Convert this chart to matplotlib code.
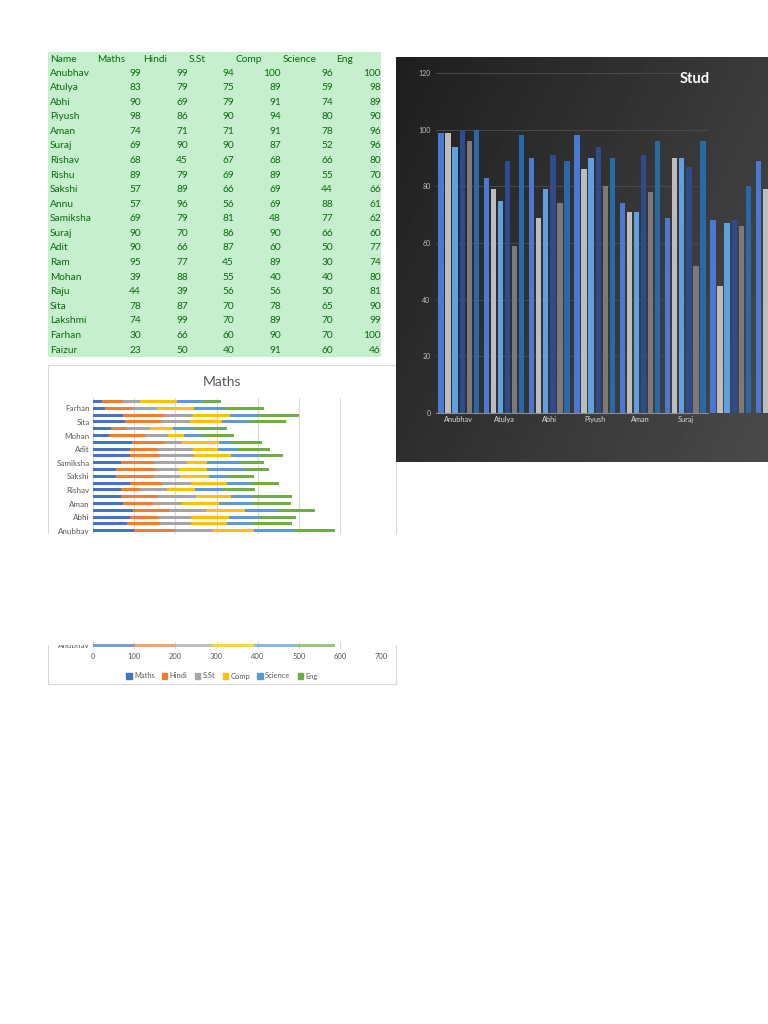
import matplotlib
matplotlib.use('Agg')
import matplotlib.pyplot as plt
from matplotlib.patches import Rectangle, Patch
import numpy as np

plt.rcParams['font.family'] = ['Lato', 'DejaVu Sans']

W, H = 768, 1024

# student marks (sheet rows, top to bottom)
names = ['Anubhav', 'Atulya', 'Abhi', 'Piyush', 'Aman', 'Suraj', 'Rishav', 'Rishu',
         'Sakshi', 'Annu', 'Samiksha', 'Suraj', 'Adit', 'Ram', 'Mohan', 'Raju',
         'Sita', 'Lakshmi', 'Farhan', 'Faizur']
maths = [99, 83, 90, 98, 74, 69, 68, 89, 57, 57, 69, 90, 90, 95, 39, 44, 78, 74, 30, 23]
hindi = [99, 79, 69, 86, 71, 90, 45, 79, 89, 96, 79, 70, 66, 77, 88, 39, 87, 99, 66, 50]
sst = [94, 75, 79, 90, 71, 90, 67, 69, 66, 56, 81, 86, 87, 45, 55, 56, 70, 70, 60, 40]
comp = [100, 89, 91, 94, 91, 87, 68, 89, 69, 69, 48, 90, 60, 89, 40, 56, 78, 89, 90, 91]
science = [96, 59, 74, 80, 78, 52, 66, 55, 44, 88, 77, 66, 50, 30, 40, 50, 65, 70, 70, 60]
eng = [100, 98, 89, 90, 96, 96, 80, 70, 66, 61, 62, 60, 77, 74, 80, 81, 90, 99, 100, 46]

subjects = ['Maths', 'Hindi', 'S.St', 'Comp', 'Science', 'Eng']
marks = [maths, hindi, sst, comp, science, eng]

office_colors = ['#4472C4', '#ED7D31', '#A5A5A5', '#FFC000', '#5B9BD5', '#70AD47']
dark_colors = ['#4A78D2', '#BDBDBD', '#5FA0E0', '#2F4B8C', '#7A7A7A', '#2A69A8']


def box(x0, y0, x1, y1):
    # pixel rectangle (top-left origin) -> figure fraction
    return [x0 / W, 1 - y1 / H, (x1 - x0) / W, (y1 - y0) / H]


fig = plt.figure(figsize=(W / 100, H / 100), dpi=100)
fig.patch.set_facecolor('white')
page = fig.add_axes([0, 0, 1, 1])
page.set_xlim(0, W)
page.set_ylim(H, 0)
page.axis('off')

# ---------------- table ----------------
page.add_patch(Rectangle((48, 52), 333, 305, color='#C6EFCE', lw=0))
green = '#0A6B0A'
fs_tab = 7.3
head_x = [97, 143, 189, 236, 283, 336]
col_right = [141, 188, 234, 281, 333, 381]
page.text(50, 59, 'Name', color=green, fontsize=fs_tab, va='center')
for hx, s in zip(head_x, subjects):
    page.text(hx, 59, s, color=green, fontsize=fs_tab, va='center')
for i, nm in enumerate(names):
    y = 73 + i * 14.58
    page.text(50, y, nm, color=green, fontsize=fs_tab, va='center')
    for k in range(6):
        page.text(col_right[k], y, str(marks[k][i]), color=green,
                  fontsize=fs_tab, va='center', ha='right')

# ---------------- stacked bar chart (cut in the middle) ----------------
border = '#D9D9D9'
page.plot([48, 48, 395.5, 395.5], [533, 365, 365, 533], color=border, lw=0.8)
page.plot([48, 48, 395.5, 395.5], [645, 684, 684, 645], color=border, lw=0.8)
page.text(222, 382, 'Maths', color='#595959', fontsize=10, ha='center', va='center')

idx = np.arange(len(names))


def stacked(ax, height, alpha=1.0):
    left = np.zeros(len(names))
    for k in range(6):
        vals = np.array(marks[k])
        ax.barh(idx, vals, left=left, height=height, color=office_colors[k],
                alpha=alpha, zorder=2)
        left += vals
    ax.set_xlim(0, 700)
    ax.set_xticks(range(0, 800, 100))
    ax.grid(axis='x', color='#D9D9D9', lw=0.8, zorder=0)
    ax.set_axisbelow(True)
    for sp in ax.spines.values():
        sp.set_visible(False)
    ax.patch.set_alpha(0)


ax_top = fig.add_axes(box(93, 398.3, 381.3, 533.5))
stacked(ax_top, 0.42)
ax_top.set_ylim(-0.41, 19.47)
ax_top.set_yticks(idx[::2])
ax_top.set_yticklabels(names[::2], fontsize=5.8, color='#595959')
ax_top.tick_params(axis='both', length=0, pad=2.5)
ax_top.tick_params(axis='x', labelbottom=False)

ax_bot = fig.add_axes(box(93, 642, 381.3, 649))
stacked(ax_bot, 0.3, alpha=0.7)
ax_bot.set_ylim(-0.5, 0.5)
ax_bot.set_yticks([])
ax_bot.set_xticks(range(0, 800, 100))
ax_bot.set_xticklabels([str(v) for v in range(0, 800, 100)], fontsize=5.5, color='#595959')
ax_bot.tick_params(axis='x', length=0, pad=3)

# lower half of the cut "Anubhav" label
t = page.text(90, 645.5, names[0], fontsize=5.8, color='#595959', ha='right',
              va='center', clip_on=True)
t.set_clip_path(Rectangle((40, 644.5), 60, 10, transform=page.transData))

handles = [Patch(color=c) for c in office_colors]
fig.legend(handles, subjects, loc='center', bbox_to_anchor=(222 / W, 1 - 676 / H),
           ncol=6, frameon=False, fontsize=5.4, handlelength=0.7, handleheight=0.7,
           handletextpad=0.35, columnspacing=0.95, labelcolor='#595959')

# ---------------- dark clustered column chart ----------------
bg = fig.add_axes(box(396, 57, 768, 462))
yy, xx = np.mgrid[0:1:120j, 0:1:200j]
grad = 0.12 + 0.17 * (0.65 * xx + 0.35 * yy)
bg.imshow(grad, cmap='gray', vmin=0, vmax=1, aspect='auto', extent=(0, 1, 0, 1))
bg.axis('off')

ax_d = fig.add_axes(box(436, 73, 708, 413))
ax_d.patch.set_alpha(0)
xpos = np.arange(len(names))
step, bw = 0.155, 0.118
for k in range(6):
    ax_d.bar(xpos + (k - 2.5) * step, marks[k], width=bw, color=dark_colors[k],
             clip_on=False, zorder=2)
ax_d.set_xlim(-0.5, 5.5)
ax_d.set_ylim(0, 120)
ax_d.set_yticks(range(0, 140, 20))
ax_d.set_yticklabels([str(v) for v in range(0, 140, 20)], fontsize=5, color='#BFBFBF')
ax_d.set_xticks(range(6))
ax_d.set_xticklabels(names[:6], fontsize=5.3, color='#D9D9D9')
ax_d.tick_params(axis='both', length=0)
ax_d.tick_params(axis='y', pad=4)
ax_d.tick_params(axis='x', pad=2)
ax_d.grid(axis='y', color='#4A4A4A', lw=0.7, zorder=0)
ax_d.set_axisbelow(True)
for side in ['top', 'right', 'left']:
    ax_d.spines[side].set_visible(False)
ax_d.spines['bottom'].set_color('#8C8C8C')
ax_d.spines['bottom'].set_linewidth(0.8)

fig.text(680 / W, 1 - 79 / H, 'Stud', color='white', fontsize=10.5,
         fontweight='bold', ha='left', va='center')

fig.savefig('out.png', dpi=100, facecolor='white')
